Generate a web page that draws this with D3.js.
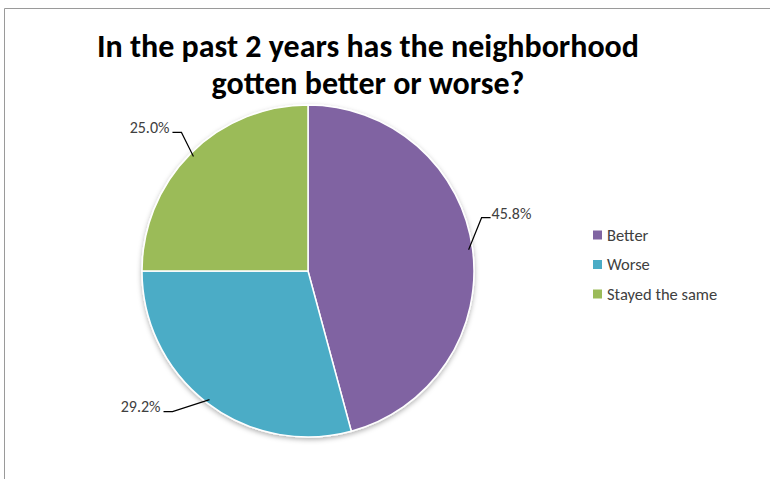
<!DOCTYPE html>
<html>
<head>
<meta charset="utf-8">
<script src="https://cdn.jsdelivr.net/npm/d3@7"></script>
<style>
  body { margin: 0; background: #fff; }
  svg { display: block; }
</style>
</head>
<body>
<div id="chart"></div>
<script>
// chart data
const categories = ["Better", "Worse", "Stayed the same"];
const values = [45.8, 29.2, 25.0];
const labels = ["45.8%", "29.2%", "25.0%"];
const colors = ["#8064A2", "#4BACC6", "#9BBB59"];
const titleLines = ["In the past 2 years has the neighborhood", "gotten better or worse?"];

const width = 770, height = 479;
const cx = 308, cy = 271, radius = 166;
const fontFamily = "Carlito, 'Liberation Sans Narrow', 'Open Sans', sans-serif";

// leader line elbow offsets from the slice edge (dx, dy)
const leaderOffsets = [[13, -32], [-37, 12], [-12, -24]];

let svg = d3.select('#chart')
    .append('svg')
    .attr('width', width)
    .attr('height', height);

// chart border (top and left are visible in the screenshot)
svg.append('path')
    .attr('d', 'M4.5,' + height + 'V8.5H' + width)
    .attr('fill', 'none')
    .attr('stroke', '#9a9a9a')
    .attr('stroke-width', 1);

// title
svg.append('text')
    .attr('x', 368)
    .attr('y', 57)
    .attr('text-anchor', 'middle')
    .style('font-family', fontFamily)
    .style('font-weight', 'bold')
    .style('font-size', '32px')
    .style('fill', '#000')
    .selectAll('tspan')
    .data(titleLines)
    .join('tspan')
    .attr('x', 368)
    .attr('dy', (d, i) => i === 0 ? 0 : 37)
    .text(d => d);

let defs = svg.append('defs');
let filter = defs.append('filter')
    .attr('id', 'shadow')
    .attr('x', '-20%').attr('y', '-20%')
    .attr('width', '140%').attr('height', '140%');
filter.append('feDropShadow')
    .attr('dx', 0).attr('dy', 2)
    .attr('stdDeviation', 2.5)
    .attr('flood-color', '#000')
    .attr('flood-opacity', 0.3);

let pie = d3.pie().sort(null).value(d => d);
let arcs = pie(values);
let arc = d3.arc().innerRadius(0).outerRadius(radius);

let pieG = svg.append('g')
    .attr('transform', 'translate(' + cx + ',' + cy + ')');

pieG.append('g')
    .attr('filter', 'url(#shadow)')
    .selectAll('path')
    .data(arcs)
    .join('path')
    .attr('d', arc)
    .attr('fill', (d, i) => colors[i])
    .attr('stroke', '#fff')
    .attr('stroke-width', 1.5);

// data labels with leader lines
arcs.forEach(function (d, i) {
    let mid = (d.startAngle + d.endAngle) / 2;
    let ex = Math.sin(mid) * (radius - 4);
    let ey = -Math.cos(mid) * (radius - 4);
    let off = leaderOffsets[i];
    let bx = ex + off[0], by = ey + off[1];
    let right = Math.sin(mid) > 0;
    let hx = bx + (right ? 9 : -9);

    pieG.append('polyline')
        .attr('points', [[ex, ey], [bx, by], [hx, by]].map(p => p.join(',')).join(' '))
        .attr('fill', 'none')
        .attr('stroke', '#000')
        .attr('stroke-width', 1.2);

    pieG.append('text')
        .attr('x', hx + (right ? 1 : -3))
        .attr('y', by)
        .attr('dy', '0.05em')
        .attr('text-anchor', right ? 'start' : 'end')
        .style('font-family', fontFamily)
        .style('font-size', '16px')
        .style('fill', '#404040')
        .text(labels[i]);
});

// legend
let legend = svg.append('g')
    .attr('transform', 'translate(593,235)')
    .selectAll('g')
    .data(categories)
    .join('g')
    .attr('transform', (d, i) => 'translate(0,' + (i * 29.5) + ')');

legend.append('rect')
    .attr('x', 0).attr('y', -4.5)
    .attr('width', 9).attr('height', 9)
    .attr('fill', (d, i) => colors[i]);

legend.append('text')
    .attr('x', 14)
    .attr('y', 0)
    .attr('dy', '0.35em')
    .style('font-family', fontFamily)
    .style('font-size', '16.5px')
    .style('fill', '#404040')
    .text(d => d);
</script>
</body>
</html>
